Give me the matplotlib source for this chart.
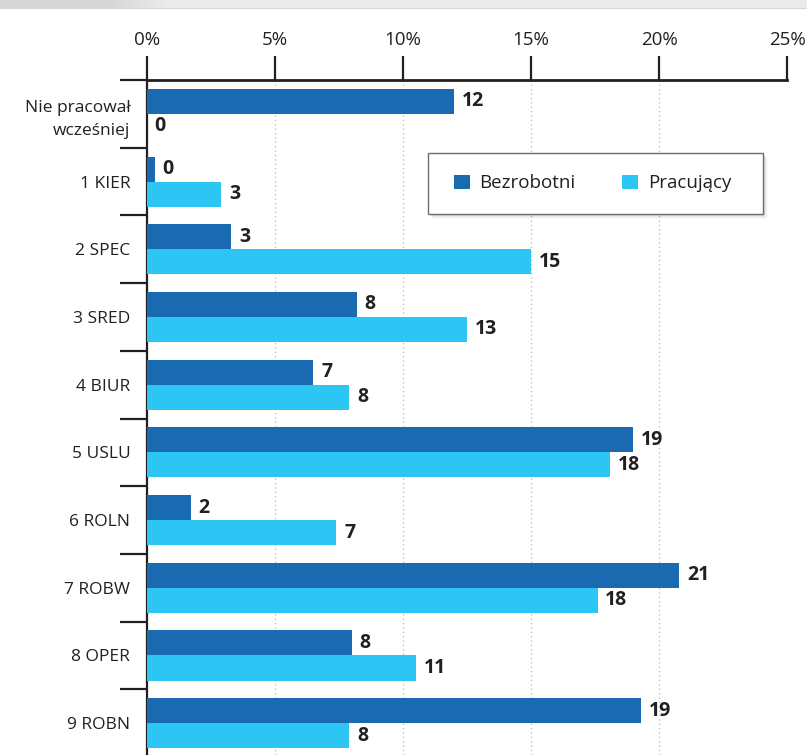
import matplotlib
matplotlib.use("Agg")
import matplotlib.pyplot as plt
import numpy as np
from matplotlib.patches import Rectangle, Patch

plt.rcParams['font.family'] = ['Open Sans', 'DejaVu Sans']

# --- data ---
categories = ["Nie pracował\nwcześniej", "1 KIER", "2 SPEC", "3 SRED", "4 BIUR",
              "5 USLU", "6 ROLN", "7 ROBW", "8 OPER", "9 ROBN"]
bezrobotni = [12.0, 0.3, 3.3, 8.2, 6.5, 19.0, 1.7, 20.8, 8.0, 19.3]
pracujacy = [0.0, 2.9, 15.0, 12.5, 7.9, 18.1, 7.4, 17.6, 10.5, 7.9]
bezrobotni_lbl = [12, 0, 3, 8, 7, 19, 2, 21, 8, 19]
pracujacy_lbl = [0, 3, 15, 13, 8, 18, 7, 18, 11, 8]
x_ticks = [0, 5, 10, 15, 20, 25]

DARK = "#1a6ab1"
LIGHT = "#2cc5f4"
TXT = "#231f20"

W, H = 807, 755
fig = plt.figure(figsize=(W / 100, H / 100), dpi=100)

# header strip at the very top
hdr = fig.add_axes([0, 1 - 9 / H, 1, 9 / H])
xs = np.arange(W)
base = np.where(xs < 110, 0.845, np.clip(0.845 + (xs - 110) / 60 * 0.08, 0.845, 0.925))
grad = np.tile(base, (9, 1))
grad[-1, :] = 0.84
hdr.imshow(np.dstack([grad] * 3), aspect='auto', interpolation='bilinear')
hdr.set_axis_off()

ax = fig.add_axes([147 / W, 0, (787 - 147) / W, (H - 80) / H])
y = np.arange(len(categories))
bh = 0.37
ax.barh(y - bh / 2, bezrobotni, height=bh, color=DARK, zorder=3)
ax.barh(y + bh / 2, pracujacy, height=bh, color=LIGHT, zorder=3)

for i in range(len(categories)):
    ax.text(bezrobotni[i] + 0.3, y[i] - bh / 2, str(bezrobotni_lbl[i]), va='center', ha='left',
            fontsize=14, fontweight='bold', color=TXT)
    ax.text(pracujacy[i] + 0.3, y[i] + bh / 2, str(pracujacy_lbl[i]), va='center', ha='left',
            fontsize=14, fontweight='bold', color=TXT)

ax.set_xlim(0, 25)
ax.set_ylim(9.47, -0.5)
ax.xaxis.tick_top()
ax.set_xticks(x_ticks)
ax.set_xticklabels([f"{t}%" for t in x_ticks])
ax.tick_params(axis='x', length=17, width=1.6, pad=5, labelsize=13.5, colors=TXT)
ax.grid(axis='x', linestyle=(0, (1, 2.5)), color='#b5b5b5', linewidth=0.9, zorder=0)

ax.set_yticks(y)
ax.set_yticklabels(categories, linespacing=1.6)
ax.set_yticks(np.arange(-0.5, 9, 1), minor=True)
ax.tick_params(axis='y', which='major', length=0, pad=12, labelsize=12.5, colors=TXT)
ax.tick_params(axis='y', which='minor', length=19.5, width=1.6, color=TXT)
for lbl in ax.get_yticklabels():
    lbl.set_horizontalalignment('right')

for s in ['right', 'bottom']:
    ax.spines[s].set_visible(False)
ax.spines['top'].set_linewidth(2.0)
ax.spines['left'].set_linewidth(1.6)
ax.spines['top'].set_color(TXT)
ax.spines['left'].set_color(TXT)

# legend box with soft shadow
bx0, by0, bx1, by1 = 428, 153, 763, 214
for k, a in enumerate([0.05, 0.04, 0.03, 0.02]):
    off = k + 2
    fig.patches.append(Rectangle(((bx0 + off) / W, 1 - (by1 + off) / H),
                                 (bx1 - bx0) / W, (by1 - by0) / H,
                                 transform=fig.transFigure, facecolor='black',
                                 edgecolor='none', alpha=a, zorder=4))
fig.patches.append(Rectangle((bx0 / W, 1 - by1 / H), (bx1 - bx0) / W, (by1 - by0) / H,
                             transform=fig.transFigure, facecolor='white',
                             edgecolor='#6d6d6d', linewidth=1.0, zorder=5))
handles = [Patch(facecolor=DARK, label="Bezrobotni"), Patch(facecolor=LIGHT, label="Pracujący")]
leg = fig.legend(handles=handles, loc='center', ncol=2, frameon=False,
                 bbox_to_anchor=((bx0 + bx1) / 2 / W - 3 / W, 1 - (by0 + by1) / 2 / H),
                 fontsize=13.5, handlelength=0.85, handleheight=0.85,
                 handletextpad=0.5, columnspacing=2.5, labelcolor=TXT)
leg.set_zorder(6)

fig.savefig("out.png", dpi=100)
